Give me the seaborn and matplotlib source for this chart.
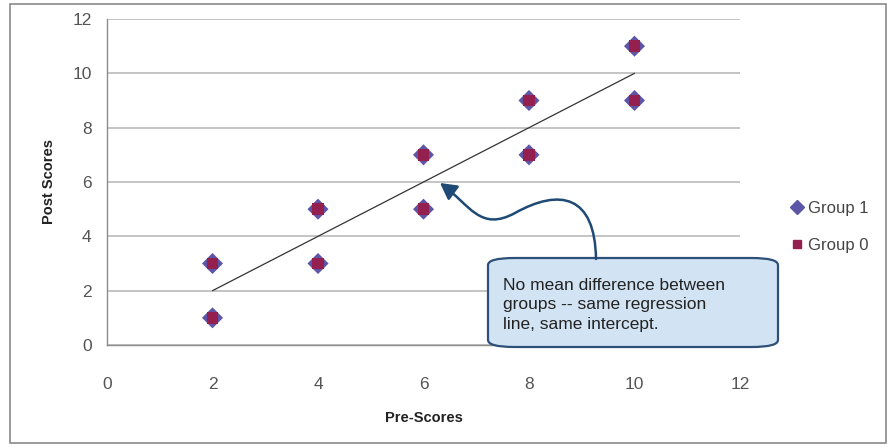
import numpy as np
import pandas as pd
import matplotlib
matplotlib.use("Agg")
import matplotlib.pyplot as plt
from matplotlib.patches import Rectangle, FancyBboxPatch, FancyArrowPatch
from matplotlib.path import Path
from matplotlib.lines import Line2D
import seaborn as sns

# Pre/post scores for the two groups (identical distributions)
pre_scores = [2, 2, 4, 4, 6, 6, 8, 8, 10, 10]
post_group1 = [3, 1, 5, 3, 7, 5, 9, 7, 11, 9]
post_group0 = [3, 1, 5, 3, 7, 5, 9, 7, 11, 9]
group_names = ["Group 1", "Group 0"]
axis_ticks = [0, 2, 4, 6, 8, 10, 12]

df = pd.DataFrame({
    "pre": pre_scores * 2,
    "post": post_group1 + post_group0,
    "group": [group_names[0]] * len(pre_scores) + [group_names[1]] * len(pre_scores),
})

sns.set_theme(style="white")
plt.rcParams["font.family"] = ["Liberation Sans", "DejaVu Sans"]

W, H = 891, 448
fig = plt.figure(figsize=(W / 100, H / 100), dpi=100)
ax = fig.add_axes([107 / W, 1 - 345 / H, (740 - 107) / W, (345 - 19) / H])

c_g1 = "#5d56a6"
c_g0 = "#93204f"

# Regression line over both groups
sns.regplot(data=df, x="pre", y="post", scatter=False, ci=None, ax=ax,
            line_kws=dict(color="#333333", lw=0.9), truncate=True)

g1 = df[df["group"] == group_names[0]]
g0 = df[df["group"] == group_names[1]]
sns.scatterplot(data=g1, x="pre", y="post", marker="D", s=115, color=c_g1,
                edgecolor="none", ax=ax, zorder=3, legend=False)
sns.scatterplot(data=g0, x="pre", y="post", marker="s", s=68, color=c_g0,
                edgecolor="none", ax=ax, zorder=4, legend=False)

ax.set_xlim(0, 12)
ax.set_ylim(0, 12)
ax.set_xticks(axis_ticks)
ax.set_yticks(axis_ticks)
ax.set_xticklabels([str(t) for t in axis_ticks])
ax.set_yticklabels([str(t) for t in axis_ticks])
ax.yaxis.grid(True, color="#b4b4b4", lw=1.1)
ax.xaxis.grid(False)
ax.set_axisbelow(True)
for side in ["top", "right"]:
    ax.spines[side].set_visible(False)
for side in ["left", "bottom"]:
    ax.spines[side].set_color("#8c8c8c")
    ax.spines[side].set_linewidth(1.0)
ax.tick_params(axis="both", direction="out", length=5, width=1, color="#8c8c8c",
               labelsize=12.5, labelcolor="#555555")
ax.tick_params(axis="y", pad=6)
ax.tick_params(axis="x", pad=18)

ax.set_xlabel("Pre-Scores", fontsize=10.5, fontweight="bold", color="#222222", labelpad=14)
ax.set_ylabel("Post Scores", fontsize=10.5, fontweight="bold", color="#222222", labelpad=12)

# Legend to the right of the plot
handles = [
    Line2D([], [], marker="D", ls="none", color=c_g1, markersize=7),
    Line2D([], [], marker="s", ls="none", color=c_g0, markersize=5.5),
]
leg = fig.legend(handles, group_names, loc="center left",
                 bbox_to_anchor=(781 / W, 1 - 227 / H), frameon=False,
                 fontsize=12, labelspacing=1.35, handletextpad=0.25,
                 handlelength=0.9, borderpad=0)
for t in leg.get_texts():
    t.set_color("#444444")

# Callout box with curved arrow pointing at the regression line
def px2data(px, py):
    return ((px - 107) / (740 - 107) * 12, (345 - py) / (345 - 19) * 12)

bx0, by0 = px2data(488, 347)
bx1, by1 = px2data(778, 258)
box = FancyBboxPatch((bx0, by0), bx1 - bx0, by1 - by0,
                     boxstyle="round,pad=0,rounding_size=0.5",
                     mutation_aspect=0.52,
                     facecolor="#d2e3f3", edgecolor="#2d4f78", lw=1.6,
                     zorder=6, clip_on=False)
ax.add_patch(box)
tx, ty = px2data(503, 305)
ax.text(tx, ty, "No mean difference between\ngroups -- same regression\nline, same intercept.",
        fontsize=12.5, color="#222222", va="center", ha="left", linespacing=1.38,
        zorder=7)

verts = [px2data(596, 259), px2data(595, 195), px2data(560, 188), px2data(515, 213),
         px2data(480, 232), px2data(470, 205), px2data(440, 183)]
codes = [Path.MOVETO, Path.CURVE4, Path.CURVE4, Path.CURVE4,
         Path.CURVE4, Path.CURVE4, Path.CURVE4]
arrow = FancyArrowPatch(path=Path(verts, codes), arrowstyle="-|>,head_length=0.55,head_width=0.3",
                        mutation_scale=18, color="#1f4a75", lw=1.8, zorder=6)
ax.add_patch(arrow)

# Outer frame around the whole figure
fig.patches.append(Rectangle((10 / W, 1 - 443 / H), 876 / W, 439 / H,
                             transform=fig.transFigure, fill=False,
                             edgecolor="#8a8a8a", lw=1.2))

fig.savefig("out.png", dpi=100)
